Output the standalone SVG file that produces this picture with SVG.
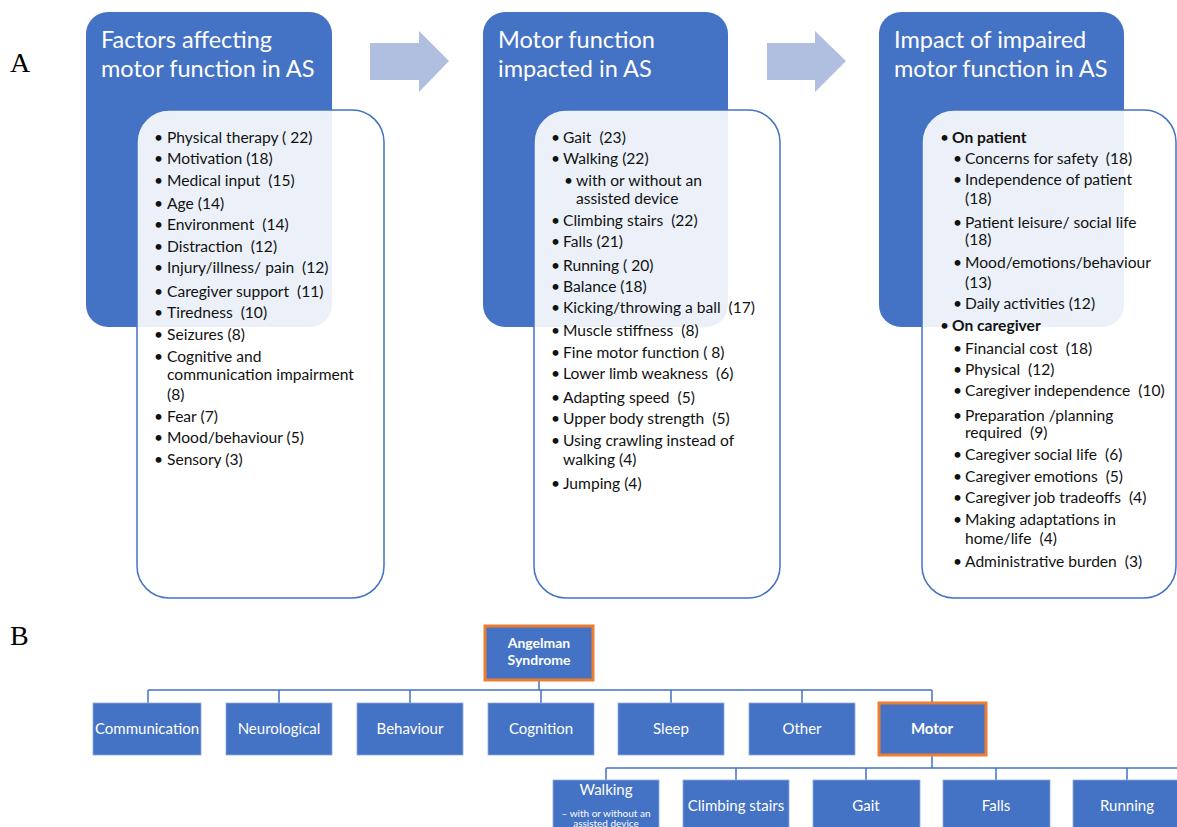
<svg xmlns="http://www.w3.org/2000/svg" width="1177" height="827" viewBox="0 0 1177 827">
<style>
.hdr{fill:#4472C4;}
.lst{fill:#FFFFFF;fill-opacity:0.9;stroke:#4472C4;stroke-width:1.5;}
.ttl{font-family:Lato,"Liberation Sans",sans-serif;font-size:23.5px;fill:#FFFFFF;}
.it{font-family:Lato,"Liberation Sans",sans-serif;font-size:15.6px;fill:#111111;}
.b{font-weight:bold;}
.lbl{font-family:"Liberation Serif",serif;font-size:28px;fill:#000000;}
.arw{fill:#B0BFE0;}
.box{fill:#4472C4;stroke:#8FAADC;stroke-width:0.8;}
.sel{fill:#4472C4;stroke:#ED7D31;stroke-width:3;}
.bt{font-family:Lato,"Liberation Sans",sans-serif;font-size:15px;fill:#FFFFFF;text-anchor:middle;}
.sm{font-family:Lato,"Liberation Sans",sans-serif;font-size:10px;fill:#FFFFFF;text-anchor:middle;}
.ln{fill:none;stroke:#4472C4;stroke-width:1.5;}
</style>
<rect width="1177" height="827" fill="#FFFFFF"/>
<text class="lbl" x="10" y="72">A</text>
<text class="lbl" x="10" y="645">B</text>

<g id="connectors">
<polygon class="arw" points="370,43 419,43 419,31 449,61 419,92 419,80 370,80"/>
<polygon class="arw" points="767,43 815,43 815,31 846,61 815,92 815,80 767,80"/>
<path class="ln" d="M539,680 V690 M148,690 H932 M148,690 V703 M279,690 V703 M410,690 V703 M541,690 V703 M671,690 V703 M802,690 V703 M932,690 V703"/>
<path class="ln" d="M932,755 V768 M606,768 H1177 M606,768 V780 M736,768 V780 M866,768 V780 M996,768 V780 M1127,768 V780"/>
</g>

<g id="panel-factors">
<rect class="hdr" x="86" y="12" width="246" height="315" rx="22"/>
<text class="ttl" x="101" y="48">Factors affecting</text>
<text class="ttl" x="101" y="77">motor function in AS</text>
<rect class="lst" x="137" y="110" width="247" height="488" rx="32"/>
<g class="it">
<text x="154" y="143">•</text><text x="167" y="143">Physical therapy ( 22)</text>
<text x="154" y="164">•</text><text x="167" y="164">Motivation (18)</text>
<text x="154" y="186">•</text><text x="167" y="186">Medical input&#160; (15)</text>
<text x="154" y="209">•</text><text x="167" y="209">Age (14)</text>
<text x="154" y="230">•</text><text x="167" y="230">Environment&#160; (14)</text>
<text x="154" y="252">•</text><text x="167" y="252">Distraction&#160; (12)</text>
<text x="154" y="273">•</text><text x="167" y="273">Injury/illness/ pain&#160; (12)</text>
<text x="154" y="297">•</text><text x="167" y="297">Caregiver support&#160; (11)</text>
<text x="154" y="318">•</text><text x="167" y="318">Tiredness&#160; (10)</text>
<text x="154" y="340">•</text><text x="167" y="340">Seizures (8)</text>
<text x="154" y="362">•</text><text x="167" y="362">Cognitive and</text>
<text x="167" y="380">communication impairment</text>
<text x="167" y="400">(8)</text>
<text x="154" y="422">•</text><text x="167" y="422">Fear (7)</text>
<text x="154" y="443">•</text><text x="167" y="443">Mood/behaviour (5)</text>
<text x="154" y="465">•</text><text x="167" y="465">Sensory (3)</text>
</g>
</g>

<g id="panel-motor-function">
<rect class="hdr" x="483" y="12" width="245" height="315" rx="22"/>
<text class="ttl" x="498" y="48">Motor function</text>
<text class="ttl" x="498" y="77">impacted in AS</text>
<rect class="lst" x="534" y="110" width="246" height="488" rx="32"/>
<g class="it">
<text x="551" y="143">•</text><text x="563" y="143">Gait&#160; (23)</text>
<text x="551" y="164">•</text><text x="563" y="164">Walking (22)</text>
<text x="564" y="186">•</text><text x="576" y="186">with or without an</text>
<text x="576" y="204">assisted device</text>
<text x="551" y="226">•</text><text x="563" y="226">Climbing stairs&#160; (22)</text>
<text x="551" y="247">•</text><text x="563" y="247">Falls (21)</text>
<text x="551" y="271">•</text><text x="563" y="271">Running ( 20)</text>
<text x="551" y="292">•</text><text x="563" y="292">Balance (18)</text>
<text x="551" y="313">•</text><text x="563" y="313">Kicking/throwing a ball&#160; (17)</text>
<text x="551" y="336">•</text><text x="563" y="336">Muscle stiffness&#160; (8)</text>
<text x="551" y="358">•</text><text x="563" y="358">Fine motor function ( 8)</text>
<text x="551" y="379">•</text><text x="563" y="379">Lower limb weakness&#160; (6)</text>
<text x="551" y="403">•</text><text x="563" y="403">Adapting speed&#160; (5)</text>
<text x="551" y="424">•</text><text x="563" y="424">Upper body strength&#160; (5)</text>
<text x="551" y="446">•</text><text x="563" y="446">Using crawling instead of</text>
<text x="563" y="465">walking (4)</text>
<text x="551" y="489">•</text><text x="563" y="489">Jumping (4)</text>
</g>
</g>

<g id="panel-impact">
<rect class="hdr" x="879" y="12" width="245" height="315" rx="22"/>
<text class="ttl" x="894" y="48">Impact of impaired</text>
<text class="ttl" x="894" y="77">motor function in AS</text>
<rect class="lst" x="922" y="110" width="254" height="488" rx="32"/>
<g class="it">
<text x="940" y="143">•</text><text class="b" x="952" y="143">On patient</text>
<text x="953" y="164">•</text><text x="965" y="164">Concerns for safety&#160; (18)</text>
<text x="953" y="185">•</text><text x="965" y="185">Independence of patient</text>
<text x="965" y="204">(18)</text>
<text x="953" y="228">•</text><text x="965" y="228">Patient leisure/ social life</text>
<text x="965" y="245">(18)</text>
<text x="953" y="268">•</text><text x="965" y="268">Mood/emotions/behaviour</text>
<text x="965" y="288">(13)</text>
<text x="953" y="309">•</text><text x="965" y="309">Daily activities (12)</text>
<text x="940" y="331">•</text><text class="b" x="952" y="331">On caregiver</text>
<text x="953" y="354">•</text><text x="965" y="354">Financial cost&#160; (18)</text>
<text x="953" y="375">•</text><text x="965" y="375">Physical&#160; (12)</text>
<text x="953" y="396">•</text><text x="965" y="396">Caregiver independence&#160; (10)</text>
<text x="953" y="421">•</text><text x="965" y="421">Preparation /planning</text>
<text x="965" y="438">required&#160; (9)</text>
<text x="953" y="460">•</text><text x="965" y="460">Caregiver social life&#160; (6)</text>
<text x="953" y="482">•</text><text x="965" y="482">Caregiver emotions&#160; (5)</text>
<text x="953" y="503">•</text><text x="965" y="503">Caregiver job tradeoffs&#160; (4)</text>
<text x="953" y="525">•</text><text x="965" y="525">Making adaptations in</text>
<text x="965" y="544">home/life&#160; (4)</text>
<text x="953" y="567">•</text><text x="965" y="567">Administrative burden&#160; (3)</text>
</g>
</g>

<g id="node-angelman">
<rect class="sel" x="485" y="626" width="108" height="54"/>
<text class="bt b" x="539" y="648" style="font-size:14px">Angelman</text>
<text class="bt b" x="539" y="665" style="font-size:14px">Syndrome</text>
</g>
<g id="node-communication"><rect class="box" x="93" y="703" width="108" height="52"/><text class="bt" x="147" y="734">Communication</text></g>
<g id="node-neurological"><rect class="box" x="226" y="703" width="106" height="52"/><text class="bt" x="279" y="734">Neurological</text></g>
<g id="node-behaviour"><rect class="box" x="357" y="703" width="106" height="52"/><text class="bt" x="410" y="734">Behaviour</text></g>
<g id="node-cognition"><rect class="box" x="488" y="703" width="106" height="52"/><text class="bt" x="541" y="734">Cognition</text></g>
<g id="node-sleep"><rect class="box" x="618" y="703" width="106" height="52"/><text class="bt" x="671" y="734">Sleep</text></g>
<g id="node-other"><rect class="box" x="749" y="703" width="106" height="52"/><text class="bt" x="802" y="734">Other</text></g>
<g id="node-motor"><rect class="sel" x="879" y="703" width="107" height="52"/><text class="bt b" x="932" y="734">Motor</text></g>
<g id="node-walking"><rect class="box" x="553" y="780" width="106" height="52"/><text class="bt" x="606" y="795">Walking</text><text class="sm" x="606" y="817">– with or without an</text><text class="sm" x="606" y="827">assisted device</text></g>
<g id="node-climbing"><rect class="box" x="683" y="780" width="106" height="52"/><text class="bt" x="736" y="811">Climbing stairs</text></g>
<g id="node-gait"><rect class="box" x="813" y="780" width="107" height="52"/><text class="bt" x="866" y="811">Gait</text></g>
<g id="node-falls"><rect class="box" x="943" y="780" width="107" height="52"/><text class="bt" x="996" y="811">Falls</text></g>
<g id="node-running"><rect class="box" x="1073" y="780" width="107" height="52"/><text class="bt" x="1127" y="811">Running</text></g>
</svg>
